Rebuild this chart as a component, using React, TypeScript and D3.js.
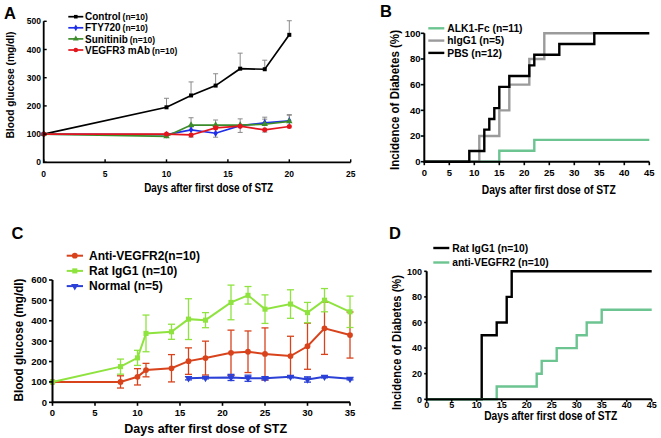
import React from "react";
import * as d3 from "d3";

const FONT = "Arial, 'Liberation Sans', sans-serif";

// ---- panel A: blood glucose, small molecules ----
const daysA = [0, 10, 12, 14, 16, 18, 20];
const controlA = [100, 195, 237, 272, 332, 330, 452];
const controlErrA = [0, 32, 48, 42, 55, 32, 50];
const fty720A = [100, 98, 115, 103, 130, 140, 147];
const fty720ErrA = [0, 0, 10, -14, 0, 20, 22]; // negative = bar drawn downward
const sunitinibA = [100, 92, 132, 132, 132, 135, 145];
const sunitinibErrA = [0, 0, 26, 18, 22, 18, 22];
const vegfr3A = [100, 100, 97, 122, 128, 115, 127];
const vegfr3ErrA = [0, 0, -8, 0, -22, -8, 0];
const xTicksA = [0, 5, 10, 15, 20, 25];
const yTicksA = [0, 100, 200, 300, 400, 500];

// ---- panel B: incidence, ALK1-Fc ----
const alk1Days = [0, 15, 22, 45];
const alk1Pct = [0, 8.5, 17, 17];
const higgDays = [0, 11, 15, 17, 21, 24, 34];
const higgPct = [0, 20, 40, 60, 80, 100, 100];
const pbsDays = [0, 9, 12, 13, 14, 15, 17, 21, 22, 27, 34, 45];
const pbsPct = [0, 8.3, 25, 33.3, 41.7, 58.3, 66.7, 75, 83.3, 91.7, 100, 100];
const xTicksB = [0, 5, 10, 15, 20, 25, 30, 35, 40, 45];
const yTicksB = [0, 20, 40, 60, 80, 100];

// ---- panel C: blood glucose, anti-VEGFR2 ----
const daysC = [0, 8, 10, 11, 14, 16, 18, 21, 23, 25, 28, 30, 32, 35];
const antiC = [100, 100, 125, 158, 167, 202, 217, 243, 248, 237, 227, 275, 363, 330];
const antiErrC = [0, 30, 40, 33, 67, 65, 83, 111, 102, 128, 97, 113, 128, 113];
const ratC = [100, 175, 218, 338, 346, 408, 403, 490, 525, 457, 482, 440, 501, 444];
const ratErrC = [0, 37, 37, 90, 37, 100, 37, 85, 43, 70, 70, 50, 57, 77];
const normalDaysC = [16, 18, 21, 23, 25, 28, 30, 32, 35];
const normalC = [118, 120, 122, 118, 118, 125, 112, 125, 115];
const normalErrC = [8, 5, 15, 15, 8, 5, 13, 5, 5];
const xTicksC = [0, 5, 10, 15, 20, 25, 30, 35];
const yTicksC = [0, 100, 200, 300, 400, 500, 600];

// ---- panel D: incidence, anti-VEGFR2 ----
const ratDaysD = [0, 11, 14, 16, 17, 45];
const ratPctD = [0, 50, 60, 80, 100, 100];
const antiDaysD = [0, 14, 22, 23, 26, 30, 32, 35, 45];
const antiPctD = [0, 10, 20, 30, 40, 50, 60, 70, 70];

type Scale = d3.ScaleLinear<number, number>;

function Axes(p: {
  xs: Scale; ys: Scale; xTicks: number[]; yTicks: number[];
  tickLen: number; fs: number; xBase: number; yEnd: number; sw: number;
}) {
  const [x0, x1] = p.xs.range();
  const [y0, y1] = p.ys.range();
  return (
    <g fontFamily={FONT} fontWeight="bold" fontSize={p.fs}>
      <path d={`M${x0},${y1}V${y0}H${x1}`} fill="none" stroke="#000" strokeWidth={p.sw} />
      {p.xTicks.map((t) => (
        <g key={"x" + t}>
          <line x1={p.xs(t)} x2={p.xs(t)} y1={y0} y2={y0 + p.tickLen} stroke="#000" strokeWidth={p.sw * 0.8} />
          <text x={p.xs(t)} y={p.xBase} textAnchor="middle">{t}</text>
        </g>
      ))}
      {p.yTicks.map((t) => (
        <g key={"y" + t}>
          <line x1={x0} x2={x0 - p.tickLen} y1={p.ys(t)} y2={p.ys(t)} stroke="#000" strokeWidth={p.sw * 0.8} />
          <text x={p.yEnd} y={p.ys(t) + p.fs * 0.36} textAnchor="end">{t}</text>
        </g>
      ))}
    </g>
  );
}

function Marker({ type, x, y, size, color }: { type: string; x: number; y: number; size: number; color: string }) {
  const sym =
    type === "square" ? d3.symbolSquare :
    type === "diamond" ? d3.symbolDiamond :
    type === "triangle" || type === "down" ? d3.symbolTriangle : d3.symbolCircle;
  const d = d3.symbol().type(sym).size(size)() as string;
  return <path d={d} fill={color} transform={`translate(${x},${y})${type === "down" ? " rotate(180)" : ""}`} />;
}

function Label(p: { x: number; y: number; text: string; fs: number; len: number; rotate?: boolean }) {
  return (
    <text
      x={p.rotate ? 0 : p.x} y={p.rotate ? 0 : p.y}
      transform={p.rotate ? `translate(${p.x},${p.y}) rotate(-90)` : undefined}
      textAnchor="middle" fontFamily={FONT} fontWeight="bold" fontSize={p.fs}
      textLength={p.len} lengthAdjust="spacingAndGlyphs"
    >{p.text}</text>
  );
}

function PanelA() {
  const xs = d3.scaleLinear().domain([0, 25]).range([43.7, 350.7]);
  const ys = d3.scaleLinear().domain([0, 500]).range([162.3, 21.3]);
  const series = [
    { name: "Control", vals: controlA, err: controlErrA, color: "#000000", m: "square", ms: 16 },
    { name: "FTY720", vals: fty720A, err: fty720ErrA, color: "#1f2fe8", m: "diamond", ms: 16 },
    { name: "Sunitinib", vals: sunitinibA, err: sunitinibErrA, color: "#3d8c2c", m: "triangle", ms: 18 },
    { name: "VEGFR3 mAb", vals: vegfr3A, err: vegfr3ErrA, color: "#e3161e", m: "circle", ms: 20 },
  ];
  const line = d3.line<number>().x((_, i) => xs(daysA[i])).y((d) => ys(d));
  return (
    <g>
      <text x={4} y={18.5} fontFamily={FONT} fontWeight="bold" fontSize={16.5}>A</text>
      {series.map((s) => (
        <g key={"e" + s.name}>
          {s.err.map((e, i) => e === 0 ? null : (
            <g key={i} stroke="#8a8a8a" strokeWidth={1}>
              <line x1={xs(daysA[i])} x2={xs(daysA[i])} y1={ys(s.vals[i])} y2={ys(s.vals[i] + e)} />
              <line x1={xs(daysA[i]) - 2.5} x2={xs(daysA[i]) + 2.5} y1={ys(s.vals[i] + e)} y2={ys(s.vals[i] + e)} />
            </g>
          ))}
        </g>
      ))}
      {series.map((s) => (
        <g key={s.name}>
          <path d={line(s.vals) as string} fill="none" stroke={s.color} strokeWidth={1.7} />
          {s.vals.map((v, i) => <Marker key={i} type={s.m} x={xs(daysA[i])} y={ys(v)} size={s.ms} color={s.color} />)}
        </g>
      ))}
      <Axes xs={xs} ys={ys} xTicks={xTicksA} yTicks={yTicksA} tickLen={-3} fs={8.5} xBase={176.5} yEnd={41} sw={1.8} />
      {series.map((s, i) => {
        const y = 16.7 + i * 11.1;
        return (
          <g key={"l" + s.name}>
            <line x1={68.3} x2={83.3} y1={y} y2={y} stroke={s.color} strokeWidth={1.7} />
            <Marker type={s.m} x={75.8} y={y} size={s.ms * 0.8} color={s.color} />
            <text x={85} y={y + 3.6} fontFamily={FONT} fontWeight="bold">
              <tspan fontSize={10}>{s.name}</tspan>
              <tspan fontSize={8.5} dx={2}>(n=10)</tspan>
            </text>
          </g>
        );
      })}
      <Label x={13.5} y={85} text="Blood glucose (mg/dl)" fs={11} len={107} rotate />
      <Label x={208.7} y={191.5} text="Days after first dose of STZ" fs={12} len={129} />
    </g>
  );
}

function StepPanel(p: {
  xs: Scale; ys: Scale; letter: string; lx: number; ly: number;
  series: { name: string; days: number[]; pct: number[]; color: string }[];
  legX: number; legY: number; legStep: number; xBase: number; yEnd: number; fs: number; tick: number;
  yLab: { x: number; y: number; len: number }; xLab: { x: number; y: number; len: number };
}) {
  const line = d3.line<[number, number]>().curve(d3.curveStepAfter).x((d) => p.xs(d[0])).y((d) => p.ys(d[1]));
  return (
    <g>
      <text x={p.lx} y={p.ly} fontFamily={FONT} fontWeight="bold" fontSize={16.5}>{p.letter}</text>
      {p.series.map((s) => (
        <path key={s.name} d={line(s.days.map((d, i) => [d, s.pct[i]] as [number, number])) as string}
          fill="none" stroke={s.color} strokeWidth={2.4} />
      ))}
      <Axes xs={p.xs} ys={p.ys} xTicks={xTicksB} yTicks={yTicksB} tickLen={p.tick} fs={p.fs} xBase={p.xBase} yEnd={p.yEnd} sw={2} />
      {p.series.map((s, i) => {
        const y = p.legY + i * p.legStep;
        return (
          <g key={"l" + s.name}>
            <line x1={p.legX} x2={p.legX + 16} y1={y} y2={y} stroke={s.color} strokeWidth={2.4} />
            <text x={p.legX + 19} y={y + 3.7} fontFamily={FONT} fontWeight="bold" fontSize={10.3}>{s.name}</text>
          </g>
        );
      })}
      <Label x={p.yLab.x} y={p.yLab.y} text="Incidence of Diabetes (%)" fs={12.5} len={p.yLab.len} rotate />
      <Label x={p.xLab.x} y={p.xLab.y} text="Days after first dose of STZ" fs={12} len={p.xLab.len} />
    </g>
  );
}

function PanelC() {
  const xs = d3.scaleLinear().domain([0, 35]).range([52.5, 350]);
  const ys = d3.scaleLinear().domain([0, 600]).range([402.3, 280]);
  const series = [
    { name: "Anti-VEGFR2(n=10)", days: daysC, vals: antiC, err: antiErrC, color: "#d8431c", m: "circle", ms: 26 },
    { name: "Rat IgG1 (n=10)", days: daysC, vals: ratC, err: ratErrC, color: "#8fe33f", m: "square", ms: 26 },
    { name: "Normal (n=5)", days: normalDaysC, vals: normalC, err: normalErrC, color: "#2b40d6", m: "down", ms: 24 },
  ];
  return (
    <g>
      <text x={11.5} y={238.5} fontFamily={FONT} fontWeight="bold" fontSize={16.5}>C</text>
      {series.map((s) => {
        const line = d3.line<number>().x((_, i) => xs(s.days[i])).y((d) => ys(d));
        return (
          <g key={s.name}>
            {s.err.map((e, i) => e === 0 ? null : (
              <g key={i} stroke={s.color} strokeWidth={1.3}>
                <line x1={xs(s.days[i])} x2={xs(s.days[i])} y1={ys(s.vals[i] - e)} y2={ys(s.vals[i] + e)} />
                <line x1={xs(s.days[i]) - 3.5} x2={xs(s.days[i]) + 3.5} y1={ys(s.vals[i] + e)} y2={ys(s.vals[i] + e)} />
                <line x1={xs(s.days[i]) - 3.5} x2={xs(s.days[i]) + 3.5} y1={ys(s.vals[i] - e)} y2={ys(s.vals[i] - e)} />
              </g>
            ))}
            <path d={line(s.vals) as string} fill="none" stroke={s.color} strokeWidth={2} />
            {s.vals.map((v, i) => <Marker key={i} type={s.m} x={xs(s.days[i])} y={ys(v)} size={s.ms} color={s.color} />)}
          </g>
        );
      })}
      <Axes xs={xs} ys={ys} xTicks={xTicksC} yTicks={yTicksC} tickLen={3.5} fs={9.5} xBase={416} yEnd={47} sw={2} />
      {series.map((s, i) => {
        const y = 255.7 + i * 15.2;
        return (
          <g key={"l" + s.name}>
            <line x1={66.7} x2={83} y1={y} y2={y} stroke={s.color} strokeWidth={2} />
            <Marker type={s.m} x={74.8} y={y} size={s.ms} color={s.color} />
            <text x={89} y={y + 4.3} fontFamily={FONT} fontWeight="bold" fontSize={12}>{s.name}</text>
          </g>
        );
      })}
      <Label x={23} y={340} text="Blood glucose (mg/dl)" fs={12.5} len={123} rotate />
      <Label x={205.7} y={432.5} text="Days after first dose of STZ" fs={13} len={163} />
    </g>
  );
}

export default function App() {
  const xsB = d3.scaleLinear().domain([0, 45]).range([424.3, 649.3]);
  const ysB = d3.scaleLinear().domain([0, 100]).range([161.7, 33.3]);
  const xsD = d3.scaleLinear().domain([0, 45]).range([426.7, 651.7]);
  const ysD = d3.scaleLinear().domain([0, 100]).range([399.3, 271.3]);
  return (
    <svg width={661} height={438} style={{ position: "absolute", left: 0, top: 0, background: "#fff" }}>
      <PanelA />
      <StepPanel
        xs={xsB} ys={ysB} letter="B" lx={380} ly={16.8}
        series={[
          { name: "ALK1-Fc (n=11)", days: alk1Days, pct: alk1Pct, color: "#6cc491" },
          { name: "hIgG1 (n=5)", days: higgDays, pct: higgPct, color: "#9b9b9b" },
          { name: "PBS (n=12)", days: pbsDays, pct: pbsPct, color: "#000000" },
        ]}
        legX={428.3} legY={28.3} legStep={12.3} xBase={176} yEnd={420.5} fs={9.5} tick={3.5}
        yLab={{ x: 399, y: 100, len: 140 }} xLab={{ x: 548.7, y: 193.5, len: 134 }}
      />
      <PanelC />
      <StepPanel
        xs={xsD} ys={ysD} letter="D" lx={389} ly={238.5}
        series={[
          { name: "Rat IgG1 (n=10)", days: ratDaysD, pct: ratPctD, color: "#000000" },
          { name: "anti-VEGFR2 (n=10)", days: antiDaysD, pct: antiPctD, color: "#6cc491" },
        ]}
        legX={433.3} legY={248} legStep={14.5} xBase={407.6} yEnd={422} fs={9} tick={2.5}
        yLab={{ x: 401, y: 342.5, len: 135 }} xLab={{ x: 550.7, y: 420, len: 133 }}
      />
    </svg>
  );
}
